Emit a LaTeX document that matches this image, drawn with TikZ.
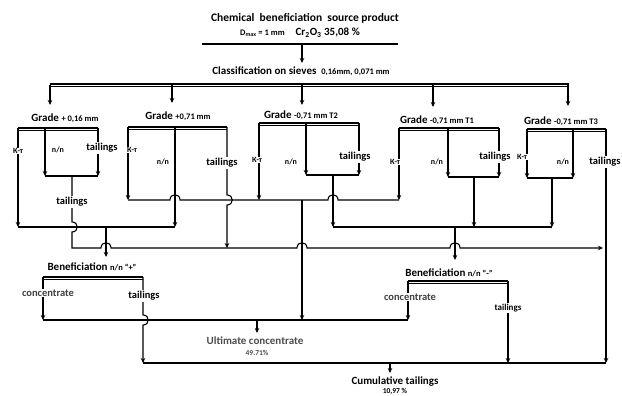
\documentclass[tikz,border=0pt]{standalone}
\usepackage{fontspec}
\setmainfont{Carlito}
\usetikzlibrary{arrows.meta,positioning,calc}
\newcommand\minor[1]{{\fontsize{8.5}{10}\selectfont #1}}

\begin{document}
\begin{tikzpicture}[x=1pt, y=1pt,
  flow/.style={line width=1.1pt},
  arr/.style={flow, -{Stealth[length=5pt, width=4.5pt]}},
  bus/.style={line width=1.3pt, postaction={draw, line width=0.8pt, transform canvas={yshift=-2.6pt}}},
  head/.style={font=\bfseries\fontsize{11.5}{13}\selectfont, inner sep=1pt},
  main/.style={font=\bfseries\fontsize{11}{13}\selectfont, inner sep=1pt},
  lbl/.style={font=\bfseries\fontsize{10.5}{12}\selectfont, fill=white, inner sep=1pt},
  tag/.style={font=\bfseries\fontsize{8}{9}\selectfont, fill=white, inner sep=0.8pt},
  note/.style={font=\bfseries\fontsize{7.5}{9}\selectfont, inner sep=0.5pt}]
  \useasboundingbox (0,0) rectangle (622,396);
  % rows of the collecting lines
  \coordinate (rK) at (0,196);
  \coordinate (rP) at (0,169);
  \coordinate (rT) at (0,148);
  \coordinate (rC) at (0,76);
  \coordinate (rF) at (0,33);
  % source product and sieving
  \node[head] (src) at (305,378) {Chemical\ \ beneficiation\ \ source product};
  \node[main] (dmax) at (300,363) {\minor{D\textsubscript{max} = 1 mm}\quad Cr\textsubscript{2}O\textsubscript{3} 35,08 \%};
  \coordinate (srcL) at (202,352);
  \coordinate (srcR) at (398,352);
  \draw[flow] (srcL) -- (srcR);
  \node[main] (cls) at (301,325) {Classification on sieves\ \ \minor{0,16mm, 0,071 mm}};
  \draw[arr] (302,352) -- (302,333);
  \coordinate (clsL) at (50,312);
  \coordinate (clsR) at (569,312);
  \draw[bus] (clsL) -- (clsR);
  \foreach \x/\tip in {50/291, 172/293, 302/291, 433/289, 568/290}
    \draw[arr] (\x,311) -- (\x,\tip);
  % grades
  \node[main] (g1) at (65,278) {Grade \minor{+ 0,16 mm}};
  \node[main] (g2) at (178,280) {Grade \minor{+0,71 mm}};
  \node[main] (g3) at (301,281) {Grade \minor{-0,71 mm T2}};
  \node[main] (g4) at (437,276) {Grade \minor{-0,71 mm T1}};
  \node[main] (g5) at (561,275) {Grade \minor{-0,71 mm T3}};
  % grade +0,16
  \coordinate (g1k) at (18,268);
  \coordinate (g1n) at (45,268);
  \coordinate (g1t) at (98,268);
  \coordinate (g1m) at (72,220);
  \draw[bus] (g1k) -- (g1t);
  \draw[arr] (g1k) -- (g1k |- rP);
  \draw[arr] (g1n) -- (g1n |- g1m);
  \draw[arr] (g1t) -- (g1t |- g1m);
  \draw[flow] (g1n |- g1m) -- (g1t |- g1m);
  \draw[arr] (g1m) -- (72,174) .. controls (79,174) and (79,164) .. (72,164) -- (g1m |- rT)
    -- (101,148) .. controls (101,155) and (111,155) .. (111,148)
    -- (297,148) .. controls (297,155) and (307,155) .. (307,148)
    -- (450,148) .. controls (450,155) and (460,155) .. (460,148) -- (603,148);
  % grade +0,71
  \coordinate (g2k) at (128,269);
  \coordinate (g2n) at (175,269);
  \coordinate (g2t) at (227,269);
  \draw[bus] (g2k) -- (g2t);
  \draw[arr] (g2k) -- (g2k |- rK);
  \draw[arr] (g2n) -- (g2n |- rP);
  \draw[arr] (g2t) -- (227,201) .. controls (234,201) and (234,191) .. (227,191) -- (g2t |- rT);
  \draw[flow] (g1k |- rP) -- (g2n |- rP);
  \coordinate (bpIn) at (106,139);
  \draw[arr] (bpIn |- rP) -- (bpIn);
  \draw[flow] (g2k |- rK) -- (170,196) .. controls (170,203) and (180,203) .. (180,196)
    -- (328,196) .. controls (328,203) and (338,203) .. (338,196) -- (399,196);
  \coordinate (ucIn) at (302,196);
  \draw[arr] (ucIn) -- (ucIn |- rC);
  % grade -0,71 T2
  \coordinate (g3k) at (259,273);
  \coordinate (g3n) at (306,273);
  \coordinate (g3t) at (359,273);
  \coordinate (g3m) at (333,221);
  \draw[bus] (g3k) -- (g3t);
  \draw[arr] (g3k) -- (g3k |- rK);
  \draw[arr] (g3n) -- (g3n |- g3m);
  \draw[arr] (g3t) -- (g3t |- g3m);
  \draw[flow] (g3n |- g3m) -- (g3t |- g3m);
  \draw[arr] (g3m) -- (g3m |- rP);
  % grade -0,71 T1
  \coordinate (g4k) at (399,268);
  \coordinate (g4n) at (448,268);
  \coordinate (g4t) at (499,268);
  \coordinate (g4m) at (474,219);
  \draw[bus] (g4k) -- (g4t);
  \draw[arr] (g4k) -- (g4k |- rK);
  \draw[arr] (g4n) -- (g4n |- g4m);
  \draw[arr] (g4t) -- (g4t |- g4m);
  \draw[flow] (g4n |- g4m) -- (g4t |- g4m);
  \draw[arr] (g4m) -- (g4m |- rP);
  % grade -0,71 T3
  \coordinate (g5k) at (527,267);
  \coordinate (g5n) at (573,267);
  \coordinate (g5t) at (606,267);
  \coordinate (g5m) at (552,218);
  \draw[bus] (g5k) -- (g5t);
  \draw[arr] (g5k) -- (g5k |- g5m);
  \draw[arr] (g5n) -- (g5n |- g5m);
  \draw[flow] (g5k |- g5m) -- (g5n |- g5m);
  \draw[arr] (g5m) -- (g5m |- rP);
  \draw[arr] (g5t) -- (g5t |- rF);
  \draw[flow] (g3m |- rP) -- (g5m |- rP);
  \coordinate (bmIn) at (455,136);
  \draw[arr] (bmIn |- rP) -- (bmIn);
  % beneficiation n/n "+"
  \node[main] (bp) at (92,129) {Beneficiation \minor{n/n “+”}};
  \coordinate (bpc) at (43,119);
  \coordinate (bpt) at (143,119);
  \draw[bus] (bpc) -- (bpt);
  \draw[arr] (bpc) -- (bpc |- rC);
  \draw[arr] (bpt) -- (143,81) .. controls (150,81) and (150,71) .. (143,71) -- (bpt |- rF);
  % beneficiation n/n "-"
  \node[main] (bm) at (449,123) {Beneficiation \minor{n/n “-”}};
  \coordinate (bmc) at (408,115);
  \coordinate (bmt) at (508,115);
  \draw[bus] (bmc) -- (bmt);
  \draw[arr] (bmc) -- (bmc |- rC);
  \draw[arr] (bmt) -- (bmt |- rF);
  % products
  \draw[flow] (bpc |- rC) -- (bmc |- rC);
  \node[main, text=black!70] (ult) at (255,55) {Ultimate concentrate};
  \node[note, text=black!70] (ultp) at (257,43) {49.71\%};
  \coordinate (ucOut) at (257,63);
  \draw[arr] (ucOut |- rC) -- (ucOut);
  \draw[flow] (bpt |- rF) -- (g5t |- rF);
  \node[main] (cum) at (395,14) {Cumulative tailings};
  \node[note] (cump) at (395,4.5) {10,97 \%};
  \coordinate (ctOut) at (390,23);
  \draw[arr] (ctOut |- rF) -- (ctOut);
  % labels on the lines
  \node[tag] (g1kl) at (18,245) {К-т};
  \node[tag] (g1nl) at (58,246) {n/n};
  \node[lbl] (g1tl) at (102,248) {tailings};
  \node[lbl] (g1ml) at (72,194) {tailings};
  \node[tag] (g2kl) at (132,246) {К-т};
  \node[tag] (g2nl) at (163,234) {n/n};
  \node[lbl] (g2tl) at (222,233) {tailings};
  \node[tag] (g3kl) at (257,236) {К-т};
  \node[tag] (g3nl) at (291,234) {n/n};
  \node[lbl] (g3tl) at (355,239) {tailings};
  \node[tag] (g4kl) at (395,234) {К-т};
  \node[tag] (g4nl) at (437,234) {n/n};
  \node[lbl] (g4tl) at (495,239) {tailings};
  \node[tag] (g5kl) at (522,239) {К-т};
  \node[tag] (g5nl) at (563,234) {n/n};
  \node[lbl] (g5tl) at (605,234) {tailings};
  \node[lbl, text=black!75] (bpcl) at (48,103) {concentrate};
  \node[lbl] (bptl) at (144,100) {tailings};
  \node[lbl, text=black!75] (bmcl) at (410,99) {concentrate};
  \node[tag, font=\bfseries\fontsize{9}{10}\selectfont] (bmtl) at (508,88) {tailings};
\end{tikzpicture}
\end{document}
